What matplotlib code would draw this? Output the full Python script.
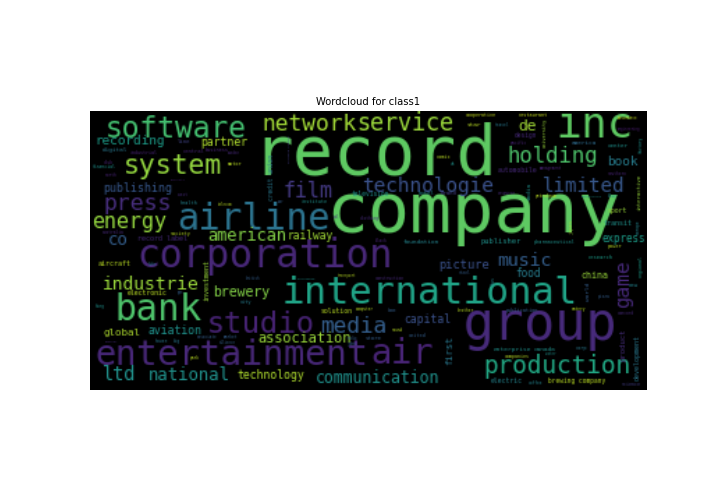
import numpy as np
import matplotlib
matplotlib.use("Agg")
import matplotlib.pyplot as plt

words = ["record", "company", "corporation", "international", "group", "entertainment",
         "bank", "air", "airline", "inc", "software", "studio", "system", "production",
         "network", "service", "holding", "media", "press", "film", "energy", "technologie",
         "limited", "ltd", "music", "industrie", "national", "american", "co", "communication",
         "de", "association", "brewery", "recording", "book", "picture", "technology", "capital",
         "aviation", "publishing", "partner", "railway", "food", "express", "global", "china",
         "publisher", "aircraft", "transit", "record label", "electronic", "solution", "electric",
         "automobile", "sport", "brewing company", "design", "television", "enterprise", "canada",
         "foundation", "digital", "america", "star", "center", "hotel", "brand", "store", "new",
         "research", "line", "central", "comic", "health", "power", "city", "motor", "publication",
         "business", "institute", "society", "pharmaceutical", "restaurant", "united", "corp",
         "industrial", "companies", "cooperative", "science", "financial", "house", "australia",
         "petroleum", "construction", "black", "clothing", "club", "north", "west", "southern",
         "pacific", "travel", "king", "big", "market", "john", "park", "brother", "eatery", "pizza",
         "concord", "steel", "blue", "coffee", "home", "sound", "management", "resource",
         "associate", "computer", "insurance", "engineering", "alliance", "life", "british",
         "transport", "radio", "water", "motorcycle", "telecom", "security", "worldwide",
         "general", "gas", "oil", "car", "sweden", "uk",
         # vertical words
         "game", "first", "credit union", "building society", "investment", "interactive",
         "india", "university", "japan", "world", "product", "development", "bus", "factory",
         "europe", "regional"]

freqs = [0.969, 1.000, 0.554, 0.539, 0.736, 0.501, 0.521, 0.500, 0.519, 0.614, 0.421, 0.427,
         0.391, 0.351, 0.321, 0.331, 0.309, 0.319, 0.327, 0.297, 0.297, 0.286, 0.281, 0.269,
         0.261, 0.256, 0.243, 0.237, 0.243, 0.229, 0.223, 0.204, 0.193, 0.184, 0.184, 0.171,
         0.161, 0.160, 0.163, 0.164, 0.159, 0.157, 0.154, 0.150, 0.146, 0.133, 0.106, 0.100,
         0.099, 0.099, 0.096, 0.094, 0.094, 0.094, 0.094, 0.091, 0.091, 0.090, 0.089, 0.087,
         0.087, 0.086, 0.086, 0.086, 0.083, 0.081, 0.080, 0.080, 0.079, 0.074, 0.077, 0.074,
         0.071, 0.071, 0.071, 0.071, 0.071, 0.073, 0.069, 0.069, 0.069, 0.069, 0.069, 0.069,
         0.069, 0.067, 0.066, 0.064, 0.064, 0.063, 0.063, 0.061, 0.061, 0.061, 0.061, 0.057,
         0.057, 0.057, 0.057, 0.057, 0.057, 0.057, 0.057, 0.057, 0.057, 0.057, 0.057, 0.057,
         0.057, 0.057, 0.057, 0.057, 0.057, 0.057, 0.054, 0.054, 0.054, 0.054, 0.054, 0.053,
         0.053, 0.051, 0.051, 0.050, 0.050, 0.050, 0.050, 0.050, 0.049, 0.050, 0.046, 0.046,
         0.046, 0.050, 0.050, 0.050, 0.050, 0.057,
         0.286, 0.143, 0.093, 0.043, 0.100, 0.080, 0.086, 0.071, 0.071, 0.086, 0.111, 0.101,
         0.064, 0.057, 0.057, 0.064]

MAX_EM = 70.0  # em height (reference px) of the most frequent word

# ---- layout: (x, y, vertical, viridis hue) in reference-pixel coordinates ----
# horizontal words: x = left edge, y = baseline; vertical words: x = centre, y = bottom
layout = [
    (252, 174, 0, 0.75), (326, 232, 0, 0.75), (137, 267, 0, 0.11), (282, 303, 0, 0.58),
    (463, 340, 0, 0.12), (95, 364, 0, 0.11), (115, 320, 0, 0.72), (370, 363, 0, 0.10),
    (177, 230, 0, 0.38), (555, 138, 0, 0.75), (105, 138, 0, 0.70), (207, 333, 0, 0.10),
    (123, 173, 0, 0.84), (483, 373, 0, 0.60), (262, 131, 0, 0.86), (357, 131, 0, 0.85),
    (507, 163, 0, 0.72), (320, 333, 0, 0.30), (103, 210, 0, 0.13), (283, 197, 0, 0.17),
    (92, 228, 0, 0.84), (362, 192, 0, 0.25), (542, 192, 0, 0.27), (103, 380, 0, 0.50),
    (497, 265, 0, 0.30), (103, 289, 0, 0.85), (148, 380, 0, 0.50), (207, 240, 0, 0.82),
    (108, 245, 0, 0.30), (315, 383, 0, 0.50), (518, 130, 0, 0.86), (257, 342, 0, 0.85),
    (213, 296, 0, 0.82), (95, 145, 0, 0.55), (607, 165, 0, 0.42), (439, 268, 0, 0.25),
    (237, 379, 0, 0.88), (403, 322, 0, 0.25), (148, 334, 0, 0.50), (103, 192, 0, 0.27),
    (200, 146, 0, 0.88), (287, 239, 0, 0.86), (515, 277, 0, 0.42), (602, 242, 0, 0.55),
    (103, 335, 0, 0.88), (580, 278, 0, 0.85), (480, 243, 0, 0.50), (98, 266, 0, 0.90),
    (603, 225, 0, 0.50), (138, 241, 0, 0.12), (127, 295, 0, 0.90), (320, 313, 0, 0.90),
    (491, 382, 0, 0.45), (497, 172, 0, 0.12), (608, 212, 0, 0.85), (548, 382, 0, 0.90),
    (515, 137, 0, 0.12), (352, 196, 0, 0.50), (493, 350, 0, 0.50), (533, 350, 0, 0.50),
    (403, 243, 0, 0.45), (102, 151, 0, 0.40), (572, 145, 0, 0.35), (467, 127, 0, 0.90),
    (607, 147, 0, 0.50), (418, 195, 0, 0.45), (441, 195, 0, 0.18), (365, 339, 0, 0.30),
    (628, 286, 0, 0.45), (588, 259, 0, 0.55), (177, 143, 0, 0.20), (183, 153, 0, 0.10),
    (436, 158, 0, 0.90), (180, 204, 0, 0.45), (608, 248, 0, 0.90), (240, 303, 0, 0.42),
    (228, 166, 0, 0.90), (506, 311, 0, 0.30), (205, 152, 0, 0.10), (302, 203, 0, 0.50),
    (170, 235, 0, 0.90), (533, 243, 0, 0.50), (518, 117, 0, 0.92), (408, 336, 0, 0.30),
    (575, 349, 0, 0.40), (130, 154, 0, 0.10), (505, 358, 0, 0.90), (465, 117, 0, 0.92),
    (622, 386, 0, 0.18), (93, 168, 0, 0.50), (155, 342, 0, 0.40), (102, 234, 0, 0.12),
    (535, 198, 0, 0.90), (375, 279, 0, 0.12), (375, 242, 0, 0.10), (360, 219, 0, 0.12),
    (103, 164, 0, 0.10), (105, 177, 0, 0.10), (178, 196, 0, 0.12), (608, 175, 0, 0.10),
    (510, 144, 0, 0.10), (495, 127, 0, 0.40), (95, 308, 0, 0.50), (173, 342, 0, 0.40),
    (223, 338, 0, 0.30), (347, 345, 0, 0.30), (190, 359, 0, 0.90), (457, 311, 0, 0.90),
    (571, 310, 0, 0.90), (598, 297, 0, 0.30), (618, 315, 0, 0.12), (458, 274, 0, 0.30),
    (608, 198, 0, 0.50), (528, 384, 0, 0.45), (387, 311, 0, 0.30), (392, 331, 0, 0.90),
    (540, 169, 0, 0.10), (497, 194, 0, 0.12), (197, 338, 0, 0.30), (355, 310, 0, 0.90),
    (618, 120, 0, 0.92), (617, 130, 0, 0.08), (220, 344, 0, 0.30), (148, 265, 0, 0.45),
    (245, 280, 0, 0.30), (337, 277, 0, 0.90), (347, 339, 0, 0.30), (546, 355, 0, 0.50),
    (582, 198, 0, 0.50), (218, 205, 0, 0.90), (170, 180, 0, 0.10), (298, 280, 0, 0.50),
    (105, 342, 0, 0.12), (178, 294, 0, 0.30), (333, 218, 0, 0.12), (277, 203, 0, 0.30),
    (228, 154, 0, 0.12), (450, 165, 0, 0.50),
    # vertical
    (623, 308, 1, 0.12), (449, 365, 1, 0.40), (272, 200, 1, 0.40), (289, 163, 1, 0.18),
    (207, 300, 1, 0.85), (639, 210, 1, 0.85), (530, 200, 1, 0.50), (545, 147, 1, 0.85),
    (572, 233, 1, 0.85), (588, 300, 1, 0.30), (623, 360, 1, 0.13), (637, 380, 1, 0.40),
    (493, 283, 1, 0.45), (641, 153, 1, 0.50), (638, 233, 1, 0.45), (640, 277, 1, 0.55),
]

# reference image box (pixels) and wordcloud canvas size
X0, Y0, BW, BH = 90, 111, 557, 279
W, H = 400, 200
S = W / BW

cmap = plt.get_cmap("viridis")

# ---- render the word cloud canvas at 400x200 ----
off = plt.figure(figsize=(W / 100, H / 100), dpi=100, facecolor="black")
oax = off.add_axes([0, 0, 1, 1])
oax.set_facecolor("black")
oax.set_xlim(0, W)
oax.set_ylim(H, 0)
oax.axis("off")
for w, f, (x, y, vert, hue) in zip(words, freqs, layout):
    em_px = f * MAX_EM * S
    fs = em_px * 72 / 100
    xi = (x - X0) * S
    yi = (y - Y0) * S
    if vert:
        oax.text(xi, yi, w, fontsize=fs, family="DejaVu Sans Mono", color=cmap(hue),
                 rotation=90, ha="center", va="bottom")
    else:
        oax.text(xi, yi, w, fontsize=fs, family="DejaVu Sans Mono", color=cmap(hue),
                 ha="left", va="baseline")
off.canvas.draw()
img = np.asarray(off.canvas.buffer_rgba())[..., :3].copy()
plt.close(off)

# ---- main figure ----
fig = plt.figure(figsize=(7.2, 5.04), dpi=100)
ax = fig.add_axes([X0 / 720, (504 - Y0 - BH) / 504, BW / 720, BH / 504])
ax.imshow(img, interpolation="bilinear")
ax.axis("off")
ax.set_title("Wordcloud for class1", fontsize=7.2, pad=4.3)
fig.savefig("out.png", dpi=100)
